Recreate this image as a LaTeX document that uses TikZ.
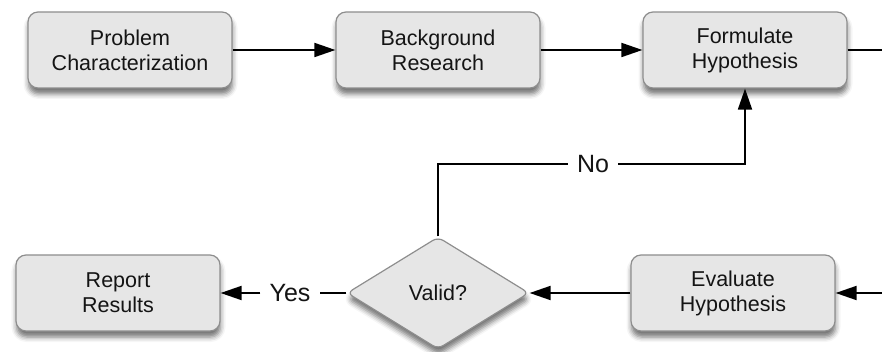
\documentclass[tikz,border=0pt]{standalone}
\usepackage{fontspec}
\setmainfont{Liberation Sans}
\usetikzlibrary{arrows.meta,shapes.geometric,shadows.blur}

\definecolor{boxfill}{HTML}{E6E6E6}
\definecolor{boxline}{HTML}{8E8E8E}
\definecolor{inktext}{HTML}{141414}

\tikzset{
  softshadow/.style={blur shadow={shadow xshift=0.5pt, shadow yshift=-6pt,
      shadow blur radius=5pt, shadow opacity=55}},
  stepbox/.style={draw=boxline, line width=1.2pt, fill=boxfill, rounded corners=10pt,
      minimum width=204pt, minimum height=76pt, align=center, text=inktext,
      font=\fontsize{21.5pt}{25pt}\selectfont, softshadow},
  decision/.style={diamond, draw=boxline, line width=1.2pt, fill=boxfill,
      rounded corners=6pt, minimum width=182pt, minimum height=112pt,
      inner sep=0pt, text=inktext, font=\fontsize{21.5pt}{25pt}\selectfont, softshadow},
  answer/.style={inner xsep=9pt, inner ysep=2pt, text=inktext,
      font=\fontsize{25pt}{28pt}\selectfont},
  flow/.style={line width=1.8pt, draw=black},
  arrowflow/.style={flow, -{Triangle[length=21pt, width=14pt]}},
}

\begin{document}
\begin{tikzpicture}[x=1pt, y=-1pt]
  \useasboundingbox (0,0) rectangle (882,352);

  % process steps
  \node[stepbox] (problem)  at (130,50)  {Problem\\Characterization};
  \node[stepbox] (research) at (438,50)  {Background\\Research};
  \node[stepbox] (formulate) at (745,50) {Formulate\\Hypothesis};
  \node[stepbox] (evaluate) at (733,293) {Evaluate\\Hypothesis};
  \node[stepbox] (report)   at (118,293) {Report\\Results};
  \node[decision] (valid)   at (438,293) {Valid?};

  % outcome labels
  \node[answer] (no)  at (593,164) {No};
  \node[answer] (yes) at (290,293) {Yes};

  % loose ends at the right margin
  \coordinate (outright) at (882,50);
  \coordinate (inright)  at (882,293);

  % connectors
  \draw[arrowflow] (problem) -- (research);
  \draw[arrowflow] (research) -- (formulate);
  \draw[flow] (formulate.east) -- (outright);
  \draw[arrowflow] (inright) -- (evaluate.east);
  \draw[arrowflow] (evaluate.west) -- (valid.east);
  \draw[flow] (valid.west) -- (yes.east);
  \draw[arrowflow] (yes.west) -- (report.east);
  \draw[flow] (valid.north) |- (no.west);
  \draw[arrowflow] (no.east) -| (formulate.south);
\end{tikzpicture}
\end{document}
